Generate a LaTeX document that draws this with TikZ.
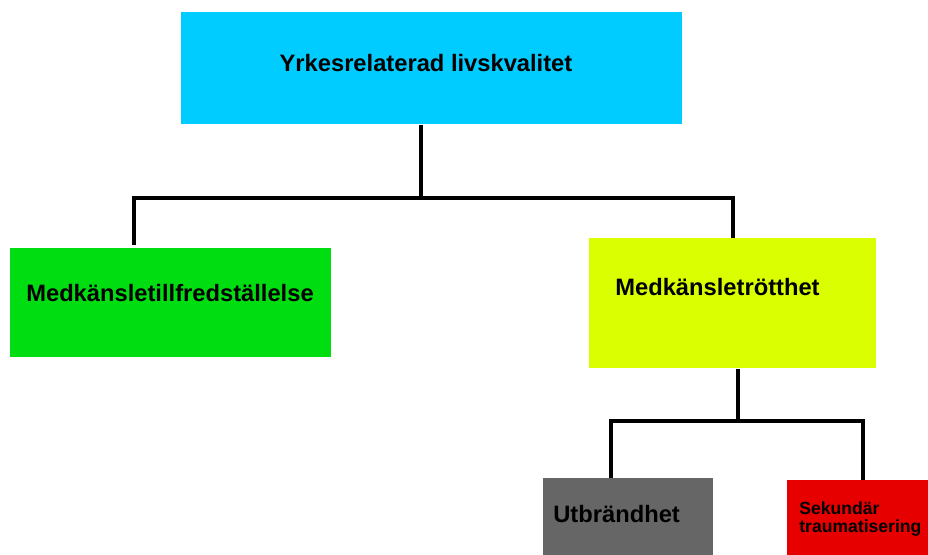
\documentclass[tikz,border=0pt]{standalone}
\usepackage{fontspec}
\setmainfont{Liberation Sans}
\usepackage{tikz}

\definecolor{livblue}{HTML}{00CCFF}
\definecolor{tillgreen}{HTML}{00DD11}
\definecolor{trottyellow}{HTML}{DAFF00}
\definecolor{utbrgray}{HTML}{666666}
\definecolor{sekred}{HTML}{E60000}

\begin{document}
\begin{tikzpicture}[x=0.02cm,y=-0.02cm,
  box/.style={rectangle,inner sep=0pt,anchor=north west},
  txt/.style={inner sep=0pt,font=\fontsize{13.5}{16}\selectfont\bfseries},
  tree/.style={line width=2pt,black}]
  \useasboundingbox (0,0) rectangle (928,554);
  \clip (0,0) rectangle (928,554);
  % boxes
  \node[box,fill=livblue,minimum width=10.02cm,minimum height=2.24cm] (liv) at (181,12) {};
  \node[box,fill=tillgreen,minimum width=6.42cm,minimum height=2.18cm] (tillf) at (10,248) {};
  \node[box,fill=trottyellow,minimum width=5.74cm,minimum height=2.6cm] (trott) at (589,238) {};
  \node[box,fill=utbrgray,minimum width=3.4cm,minimum height=1.7cm] (utbr) at (543,478) {};
  \node[box,fill=sekred,minimum width=3.2cm,minimum height=1.7cm] (sek) at (787,480) {};
  % texts
  \node[txt] (livt) at (426,63) {Yrkesrelaterad livskvalitet};
  \node[txt] (tillft) at (170,293) {Medkänsletillfredställelse};
  \node[txt,anchor=west] (trottt) at (615,287) {Medkänsletrötthet};
  \node[txt,anchor=west] (utbrt) at (553,514) {Utbrändhet};
  \node[txt,anchor=west,align=left,font=\fontsize{10}{9.8}\selectfont\bfseries] (sekt) at (799,519) {Sekundär\\traumatisering};
  % junctions
  \coordinate (a) at (421,198);
  \coordinate (b) at (738,421);
  \coordinate (al) at ([xshift=2.48cm,yshift=0.06cm]tillf.north west);
  \coordinate (ar) at ([xshift=2.88cm]trott.north west);
  \coordinate (bl) at ([xshift=1.36cm]utbr.north west);
  \coordinate (br) at ([xshift=1.52cm]sek.north west);
  \draw[tree] (liv.south -| a) -- (a);
  \draw[tree] (al) |- (a) -| (ar);
  \draw[tree] (trott.south -| b) -- (b);
  \draw[tree] (bl) |- (b) -| (br);
\end{tikzpicture}
\end{document}
